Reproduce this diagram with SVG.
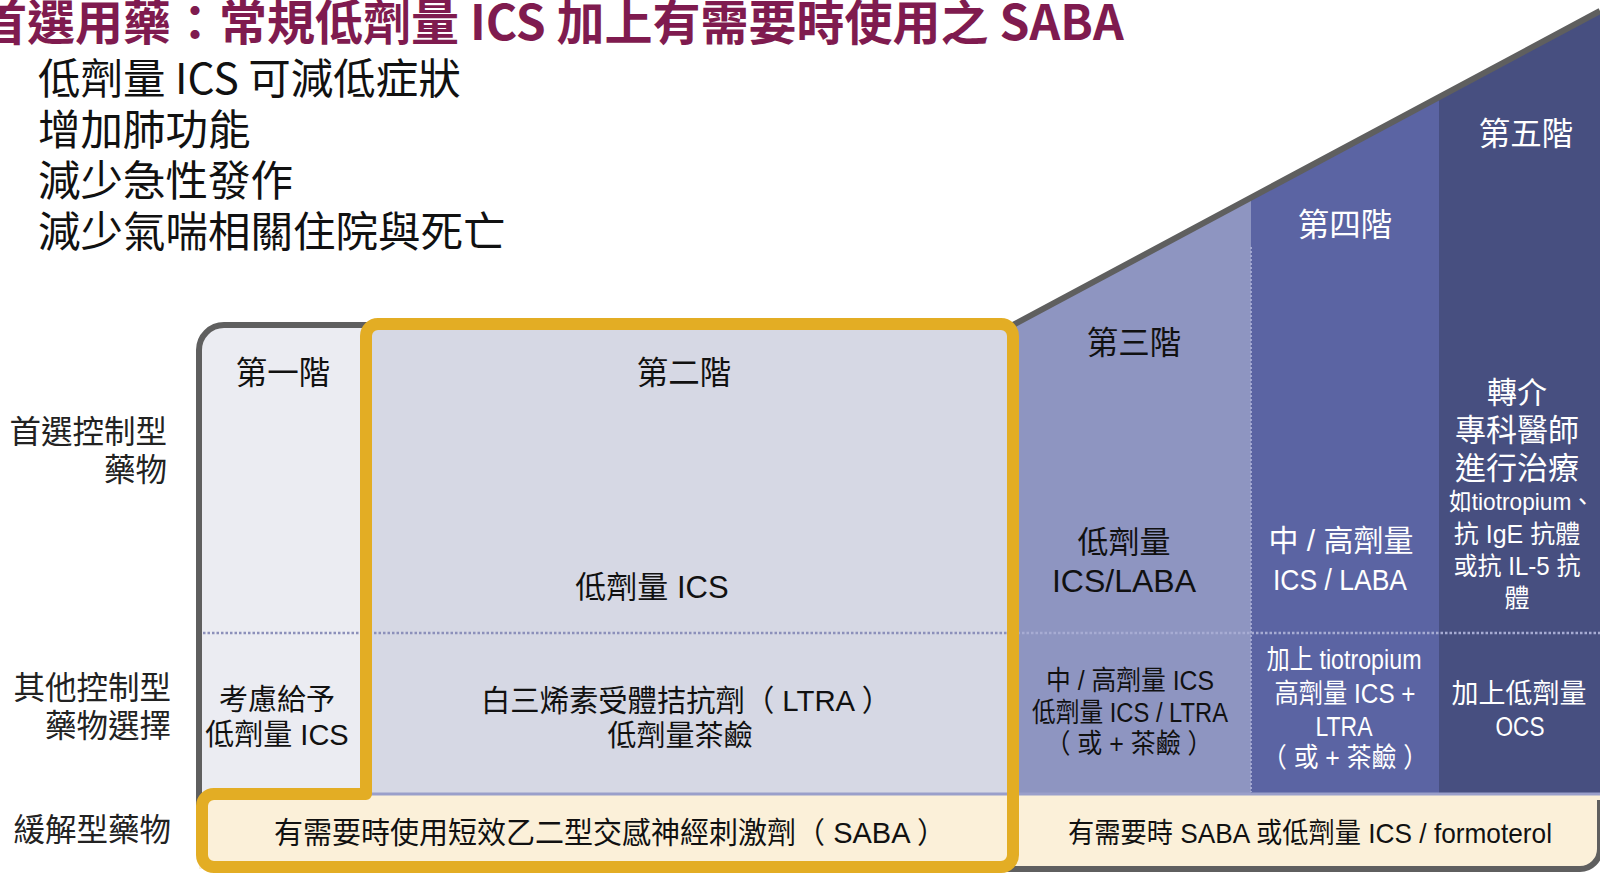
<svg xmlns="http://www.w3.org/2000/svg" width="1600" height="873" viewBox="0 0 1600 873">
<style>
text{font-family:"Liberation Sans","Noto Sans CJK TC","Noto Sans CJK JP",sans-serif;}
.cjk{font-family:"Noto Sans CJK TC","Noto Sans CJK JP",sans-serif;}
.title{font-size:48px;font-weight:bold;fill:#7F1B4F;}
.bul{font-size:42.5px;fill:#111;}
.lab{font-size:31.5px;fill:#222;text-anchor:end;}
.hd{font-size:31.5px;text-anchor:middle;}
.m{text-anchor:middle;}
.k{fill:#111;}
.w{fill:#fff;}
.dot{fill:none;stroke-width:2.5;stroke-dasharray:2.5 2;}
</style>
<rect width="1600" height="873" fill="#fff"/>
<g id="title">
<text class="cjk title" x="-21" y="40">首選用藥：常規低劑量 ICS 加上有需要時使用之 SABA</text>
</g>
<g id="bullets">
<text class="cjk bul" x="38" y="94">低劑量 ICS 可減低症狀</text>
<text class="cjk bul" x="38" y="145">增加肺功能</text>
<text class="cjk bul" x="38" y="196">減少急性發作</text>
<text class="cjk bul" x="38" y="247">減少氣喘相關住院與死亡</text>
</g>
<g id="row-labels">
<text class="lab" x="167" y="443">首選控制型</text>
<text class="lab" x="167" y="481">藥物</text>
<text class="lab" x="171" y="699">其他控制型</text>
<text class="lab" x="171" y="737">藥物選擇</text>
<text class="lab" x="171" y="841">緩解型藥物</text>
</g>
<g id="step1">
<path d="M199,350 A25,25 0 0 1 224,325 L366,325 L366,794 L199,794 Z" fill="#EBECF2"/>
<text class="hd k" x="283" y="384">第一階</text>
<text class="m k" x="277" y="710" font-size="29">考慮給予</text>
<text class="m k" x="277" y="745" font-size="29">低劑量 ICS</text>
</g>
<g id="step2">
<rect x="366" y="325" width="647" height="469" fill="#D6D8E4"/>
<text class="hd k" x="684" y="384">第二階</text>
<text class="m k" x="652" y="598" font-size="31">低劑量 ICS</text>
<text class="m k" x="686" y="711" font-size="30" textLength="410" lengthAdjust="spacingAndGlyphs">白三烯素受體拮抗劑（ LTRA ）</text>
<text class="m k" x="680" y="746" font-size="29">低劑量茶鹼</text>
</g>
<g id="step3">
<polygon points="1013,325 1251,198 1251,794 1013,794" fill="#8E95C1"/>
<text class="hd k" x="1134" y="354">第三階</text>
<text class="m k" x="1124" y="553" font-size="31">低劑量</text>
<text class="m k" x="1124" y="592" font-size="32">ICS/LABA</text>
<text class="m k" x="1130" y="690" font-size="27" textLength="168" lengthAdjust="spacingAndGlyphs">中 / 高劑量 ICS</text>
<text class="m k" x="1130" y="722" font-size="27" textLength="196" lengthAdjust="spacingAndGlyphs">低劑量 ICS / LTRA</text>
<text class="m k" x="1129" y="753" font-size="27" textLength="167" lengthAdjust="spacingAndGlyphs">（ 或 + 茶鹼 ）</text>
</g>
<g id="step4">
<polygon points="1251,198 1439,97 1439,794 1251,794" fill="#5B64A3"/>
<text class="hd w" x="1345" y="236">第四階</text>
<text class="m w" x="1341" y="551" font-size="30">中 / 高劑量</text>
<text class="m w" x="1340" y="590" font-size="30" textLength="134" lengthAdjust="spacingAndGlyphs">ICS / LABA</text>
<text class="m w" x="1344" y="669" font-size="27" textLength="155" lengthAdjust="spacingAndGlyphs">加上 tiotropium</text>
<text class="m w" x="1345" y="703" font-size="27" textLength="141" lengthAdjust="spacingAndGlyphs">高劑量 ICS +</text>
<text class="m w" x="1344" y="736" font-size="27" textLength="57" lengthAdjust="spacingAndGlyphs">LTRA</text>
<text class="m w" x="1345" y="767" font-size="27" textLength="166" lengthAdjust="spacingAndGlyphs">（ 或 + 茶鹼 ）</text>
</g>
<g id="step5">
<polygon points="1439,97 1600,11 1600,794 1439,794" fill="#474F80"/>
<text class="hd w" x="1526" y="145">第五階</text>
<text class="m w" x="1517" y="403" font-size="30">轉介</text>
<text class="m w" x="1517" y="441" font-size="31">專科醫師</text>
<text class="m w" x="1517" y="479" font-size="31">進行治療</text>
<text class="w" x="1449" y="510" font-size="24" textLength="145" lengthAdjust="spacingAndGlyphs">如tiotropium、</text>
<text class="m w" x="1517" y="543" font-size="25">抗 IgE 抗體</text>
<text class="m w" x="1517" y="575" font-size="25" textLength="127" lengthAdjust="spacingAndGlyphs">或抗 IL-5 抗</text>
<text class="m w" x="1517" y="607" font-size="25">體</text>
<text class="m w" x="1519" y="703" font-size="27">加上低劑量</text>
<text class="m w" x="1520" y="736" font-size="27" textLength="49" lengthAdjust="spacingAndGlyphs">OCS</text>
</g>
<g id="reliever">
<path d="M199,794 L1600,794 L1600,849 A20,20 0 0 1 1580,869 L199,869 Z" fill="#FBF0D9"/>
<text class="m k" x="610" y="843" font-size="29.5" textLength="672" lengthAdjust="spacingAndGlyphs">有需要時使用短效乙二型交感神經刺激劑（ SABA ）</text>
<text class="m k" x="1310" y="843" font-size="28" textLength="484" lengthAdjust="spacingAndGlyphs">有需要時 SABA 或低劑量 ICS / formoterol</text>
</g>
<g id="connectors">
<line x1="366" y1="794" x2="1600" y2="794" stroke="#9A9FCA" stroke-width="3"/>
<line class="dot" x1="203" y1="633" x2="1013" y2="633" stroke="#8C90BA"/>
<line class="dot" x1="1013" y1="633" x2="1600" y2="633" stroke="#A7ACD3"/>
<line x1="1251" y1="247" x2="1251" y2="792" stroke="#A3A8D0" stroke-width="2" stroke-dasharray="2 2"/>
</g>
<g id="frame">
<path d="M199,850 L199,350 A25,25 0 0 1 224,325 L1013,325 L1600,11" fill="none" stroke="#5F5F5F" stroke-width="6" stroke-linejoin="round"/>
<path d="M1600,800 L1600,849 A20,20 0 0 1 1580,869 L1000,869" fill="none" stroke="#5F5F5F" stroke-width="6"/>
</g>
<g id="step2-highlight">
<path d="M202,806 A12,12 0 0 1 214,794 L366,794 L366,336 A12,12 0 0 1 378,324 L1001,324 A12,12 0 0 1 1013,336 L1013,855 A12,12 0 0 1 1001,867 L214,867 A12,12 0 0 1 202,855 Z" fill="none" stroke="#E3AD24" stroke-width="12" stroke-linejoin="round"/>
</g>
</svg>
